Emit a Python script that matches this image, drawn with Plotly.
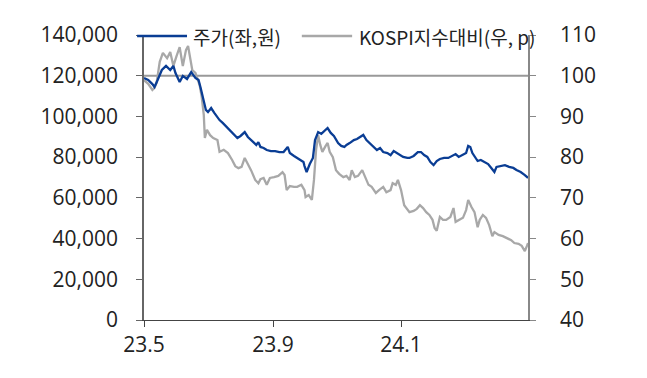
import pandas as pd
import plotly.graph_objects as go

# Day offsets from 2023-05-01 and values
price_days = [0, 4, 8, 10, 13, 17, 21, 25, 28, 30, 34, 37, 41, 45, 49, 52, 54, 56, 59, 61,
              64, 67, 70, 72, 75, 79, 82, 86, 89, 92, 96, 99, 103, 107, 109, 111, 114, 117, 121, 125,
              129, 133, 137, 139, 143, 146, 149, 152, 153, 155, 158, 161, 163, 166, 169, 172, 175, 178, 181, 185,
              188, 191, 193, 196, 200, 203, 206, 209, 212, 215, 218, 222, 225, 228, 232, 235, 238, 241, 244, 247,
              251, 253, 257, 261, 264, 267, 270, 273, 276, 279, 282, 286, 290, 294, 297, 300, 304, 307, 309, 311,
              313, 316, 318, 321, 324, 328, 331, 334, 336, 340, 344, 348, 352, 355, 359, 363, 366]
price_values = [118900, 117900, 115900, 114500, 117900, 122800, 124800, 122800, 124800, 121300,
                116900, 119900, 118400, 121800, 118900, 117900, 114000, 110000, 103200, 102200,
                104100, 101700, 99200, 98200, 96800, 94800, 92800, 90900, 89400, 90400,
                92300, 89900, 87900, 86000, 87400, 85000, 84500, 83500, 83000, 83000,
                82500, 82500, 85000, 82000, 80600, 79600, 78600, 77600, 75600, 72700,
                76600, 79600, 88400, 92300, 91400, 92800, 94300, 91900, 90400, 86900,
                85500, 85000, 86000, 86900, 88400, 88900, 89900, 90900, 88400, 86900,
                85500, 83500, 84500, 82500, 82000, 81000, 83000, 82000, 81000, 80100,
                79600, 79600, 80600, 82500, 82500, 81000, 80100, 77600, 76100, 78100,
                79100, 79600, 79600, 80600, 81500, 80100, 81000, 82000, 85500, 85000,
                82000, 79600, 78100, 78600, 77600, 76600, 74700, 72700, 75200, 75600,
                76100, 75200, 74700, 73700, 72700, 71200, 69800]

kospi_days = [0, 4, 8, 10, 12, 15, 18, 22, 25, 28, 31, 34, 37, 40, 42, 44, 46, 49, 51, 53,
              55, 57, 58, 60, 63, 66, 70, 72, 76, 80, 84, 87, 90, 93, 96, 99, 102, 106, 109, 111,
              114, 117, 120, 124, 128, 132, 134, 136, 139, 143, 146, 150, 153, 154, 157, 160, 162, 164, 166, 168,
              170, 173, 175, 177, 180, 183, 186, 190, 193, 196, 198, 201, 204, 208, 211, 214, 217, 221, 224, 228,
              231, 235, 237, 240, 242, 245, 248, 251, 253, 257, 260, 263, 266, 269, 272, 275, 277, 279, 282, 285,
              288, 292, 295, 297, 301, 304, 307, 309, 312, 315, 318, 320, 323, 326, 329, 332, 334, 338, 342, 346,
              350, 353, 357, 360, 363, 365, 366]
kospi_values = [98.9, 98.0, 96.5, 97.0, 98.2, 103.4, 105.6, 104.3, 105.8, 102.4,
                104.8, 107.0, 102.4, 106.3, 107.3, 103.9, 101.4, 100.7, 99.4, 97.7,
                94.8, 90.3, 84.7, 86.7, 85.4, 84.7, 84.2, 81.3, 81.8, 81.0,
                79.3, 77.8, 77.3, 77.6, 79.8, 78.3, 76.8, 74.4, 73.6, 74.6,
                74.9, 73.2, 74.9, 75.1, 75.4, 76.3, 75.6, 71.9, 72.9, 72.7,
                72.7, 73.2, 71.9, 70.2, 70.7, 69.5, 74.4, 81.8, 85.4, 83.0,
                81.3, 82.7, 83.5, 81.3, 80.0, 76.8, 75.9, 75.1, 75.4, 74.4,
                76.8, 75.1, 75.4, 76.8, 74.9, 73.2, 72.7, 71.2, 71.9, 72.7,
                71.4, 71.9, 73.6, 73.2, 74.4, 71.9, 68.2, 67.0, 66.5, 66.8,
                67.3, 68.2, 67.5, 66.5, 65.8, 64.6, 62.6, 61.9, 65.3, 64.6,
                64.6, 65.3, 67.5, 64.1, 64.6, 65.1, 67.0, 69.5, 67.8, 66.5,
                62.8, 64.6, 65.8, 65.1, 63.3, 60.6, 61.6, 60.9, 60.6, 60.1,
                59.6, 58.9, 58.7, 58.2, 56.9, 58.2, 58.9]

start_date = "2023-05-01"
end_date = "2024-05-01"
tick_dates = ["2023-05-01", "2023-09-01", "2024-01-01"]
tick_labels = ["23.5", "23.9", "24.1"]
baseline_value = 100

series_names = ["주가(좌,원)", "KOSPI지수대비(우, p)"]

base = pd.Timestamp(start_date)
price_dates = base + pd.to_timedelta(price_days, unit="D")
kospi_dates = base + pd.to_timedelta(kospi_days, unit="D")

BLUE = "#0A3D94"
GRAY = "#A8A8A8"
FONT = "Open Sans, Noto Sans CJK KR, sans-serif"
LEG_FONT = "Noto Sans CJK KR, sans-serif"

fig = go.Figure()
fig.add_trace(go.Scatter(x=price_dates, y=price_values, name=series_names[0], mode="lines",
                         line=dict(color=BLUE, width=2.3), yaxis="y2"))
fig.add_trace(go.Scatter(x=kospi_dates, y=kospi_values, name=series_names[1], mode="lines",
                         line=dict(color=GRAY, width=2.3), yaxis="y"))

fig.add_shape(type="line", xref="paper", x0=0, x1=1, yref="y", y0=baseline_value, y1=baseline_value,
              line=dict(color="#999999", width=2), layer="below")

# Custom legend (line samples + labels) placed in paper coordinates
legend_items = [
    dict(x0=-0.018, x1=0.112, tx=0.125, color=BLUE, text=series_names[0]),
    dict(x0=0.411, x1=0.542, tx=0.557, color=GRAY, text=series_names[1]),
]
for it in legend_items:
    fig.add_shape(type="line", xref="paper", yref="paper", x0=it["x0"], x1=it["x1"],
                  y0=0.9965, y1=0.9965, line=dict(color=it["color"], width=2.5), layer="above")
    fig.add_annotation(xref="paper", yref="paper", x=it["tx"], y=0.993, xanchor="left",
                       yanchor="middle", text=it["text"], showarrow=False,
                       font=dict(family=LEG_FONT, size=19, color="#222222"),
                       bgcolor="rgba(0,0,0,0)", borderpad=0)

fig.update_layout(
    width=647, height=378,
    margin=dict(l=144, r=119, t=35, b=58, autoexpand=False),
    paper_bgcolor="white", plot_bgcolor="white",
    font=dict(family=FONT, size=21, color="#222222"),
    showlegend=False,
    xaxis=dict(type="date", range=[start_date, end_date], tickvals=tick_dates, ticktext=tick_labels,
               showgrid=False, zeroline=False, showline=True, linecolor="#444444", linewidth=1,
               ticks="outside", ticklen=6, tickcolor="#444444", tickfont=dict(size=21)),
    yaxis=dict(side="right", range=[40, 110], dtick=10, showgrid=False, zeroline=False,
               showline=True, linecolor="#888888", linewidth=1.5, ticks="outside", ticklen=6,
               tickcolor="#888888", tickfont=dict(size=21), ticklabelstandoff=20),
    yaxis2=dict(side="left", overlaying="y", range=[0, 140000], dtick=20000, tickformat=",",
                showgrid=False, zeroline=False, showline=True, linecolor="#666666", linewidth=1.5,
                ticks="outside", ticklen=6, tickcolor="#666666", tickfont=dict(size=21),
                ticklabelstandoff=14),
)

fig.write_html("out.html", config={"displayModeBar": False},
               post_script="document.body.style.margin='0';document.body.style.padding='0';")
